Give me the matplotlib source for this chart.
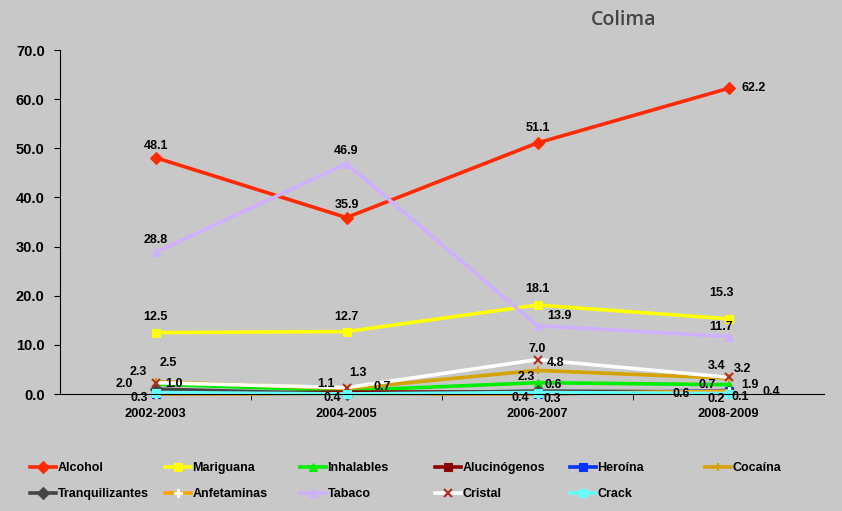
import matplotlib.pyplot as plt
import numpy as np

# Datos (porcentaje)
years = ['2002-2003', '2004-2005', '2006-2007', '2008-2009']
alcohol = [48.1, 35.9, 51.1, 62.2]
mariguana = [12.5, 12.7, 18.1, 15.3]
inhalables = [2.0, 0.7, 2.3, 1.9]
alucinogenos = [0.0, 0.4, 0.4, 0.2]
heroina = [0.0, 0.0, 0.0, 0.7]
cocaina = [2.5, 1.1, 4.8, 3.2]
tranquilizantes = [1.0, 0.0, 0.6, 0.4]
anfetaminas = [0.0, 0.0, 0.0, 0.6]
tabaco = [28.8, 46.9, 13.9, 11.7]
cristal = [2.3, 1.3, 7.0, 3.4]
crack = [0.3, 0.0, 0.3, 0.1]

series = [
    ('Alcohol', alcohol),
    ('Mariguana', mariguana),
    ('Inhalables', inhalables),
    ('Alucinógenos', alucinogenos),
    ('Heroína', heroina),
    ('Cocaína', cocaina),
    ('Tranquilizantes', tranquilizantes),
    ('Anfetaminas', anfetaminas),
    ('Tabaco', tabaco),
    ('Cristal', cristal),
    ('Crack', crack),
]

# estilo de cada serie: color, marcador, color de marcador
styles = {
    'Alcohol': ('#ff2a00', 'D', '#ff2a00'),
    'Mariguana': ('#ffff00', 's', '#ffff00'),
    'Inhalables': ('#00ee00', '^', '#00ee00'),
    'Alucinógenos': ('#8b0000', 's', '#8b0000'),
    'Heroína': ('#0033ff', 's', '#0033ff'),
    'Cocaína': ('#d4a300', '|', '#d4a300'),
    'Tranquilizantes': ('#454545', 'D', '#454545'),
    'Anfetaminas': ('#ffa500', 'P', '#ffffff'),
    'Tabaco': ('#cfb0ff', '^', '#cfb0ff'),
    'Cristal': ('#ffffff', 'x', '#b03020'),
    'Crack': ('#66ffff', 's', '#66ffff'),
}

# desplazamiento de las etiquetas en pixeles (dx, dy)
offsets = {
    'Alcohol': [(0, 12), (0, 13), (0, 15), (25, 0)],
    'Mariguana': [(0, 16), (0, 15), (0, 16), (-7, 26)],
    'Inhalables': [(-31, 0), (36, 4), (-11, 6), (21, 0)],
    'Alucinógenos': [(0, 0), (-14, -6), (-17, -6), (-12, -6)],
    'Heroína': [(0, 0), (0, 0), (0, 0), (-21, 6)],
    'Cocaína': [(13, 19), (-21, 5), (18, 7), (14, 9)],
    'Tranquilizantes': [(19, 5), (0, 0), (16, 6), (43, 0)],
    'Anfetaminas': [(0, 0), (0, 0), (0, 0), (-47, -3)],
    'Tabaco': [(0, 12), (0, 13), (22, 10), (-7, 10)],
    'Cristal': [(-17, 11), (11, 15), (0, 11), (-12, 11)],
    'Crack': [(-16, -5), (0, 0), (15, -6), (12, -3)],
}

bg = '#c8c8c8'
plt.rcParams['font.family'] = ['Liberation Sans', 'DejaVu Sans']

fig = plt.figure(figsize=(8.42, 5.11), dpi=100, facecolor=bg)
ax = fig.add_axes([60 / 842, 1 - 394 / 511, 764 / 842, 344 / 511])
ax.set_facecolor(bg)

x = np.arange(len(years))
handles = []
for name, vals in series:
    color, marker, mcolor = styles[name]
    mew = 1.5 if marker in ('x', '|') else 0.8
    line, = ax.plot(x, vals, color=color, lw=2.6, marker=marker, ms=6,
                    mfc=mcolor, mec=mcolor, mew=mew, label=name, clip_on=False)
    handles.append(line)
    for i, v in enumerate(vals):
        if v == 0:
            continue
        dx, dy = offsets[name][i]
        ax.annotate(f'{v:.1f}', (x[i], v), xytext=(dx, dy), textcoords='offset pixels',
                    ha='center', va='center', fontsize=9, fontweight='bold', color='black')

ax.set_xlim(-0.5, 3.5)
ax.set_ylim(0, 70)
ax.set_yticks(np.arange(0, 71, 10))
ax.set_yticklabels([f'{t:.1f}' for t in np.arange(0, 71, 10)], fontsize=10.5, fontweight='bold')
ax.set_xticks(x)
ax.set_xticklabels(years, fontsize=9.3, fontweight='bold')
ax.set_xticks([0.5, 1.5, 2.5], minor=True)
ax.tick_params(axis='x', which='major', length=0, pad=10)
ax.tick_params(axis='x', which='minor', length=4, direction='out')
ax.tick_params(axis='y', length=4, direction='out', pad=7)
ax.spines['top'].set_visible(False)
ax.spines['right'].set_visible(False)
ax.spines['left'].set_linewidth(0.8)
ax.spines['bottom'].set_linewidth(0.8)

fig.text(624 / 842, 1 - 20 / 511, 'Colima', fontsize=14, fontweight='semibold', color='#454545',
         ha='center', va='center', family=['Open Sans', 'DejaVu Sans'])

# leyenda: 6 columnas, 2 filas, llenado por filas
for c in range(6):
    col = [handles[i] for i in (c, c + 6) if i < len(handles)]
    fig.legend(handles=col, loc='upper left',
               bbox_to_anchor=((30 + 135 * c) / 842, 1 - 462 / 511),
               frameon=False, borderpad=0, borderaxespad=0, handlelength=2.1,
               handletextpad=0.1, labelspacing=1.15,
               prop={'size': 9, 'weight': 'bold'})

fig.savefig('out.png', dpi=100, facecolor=bg)
